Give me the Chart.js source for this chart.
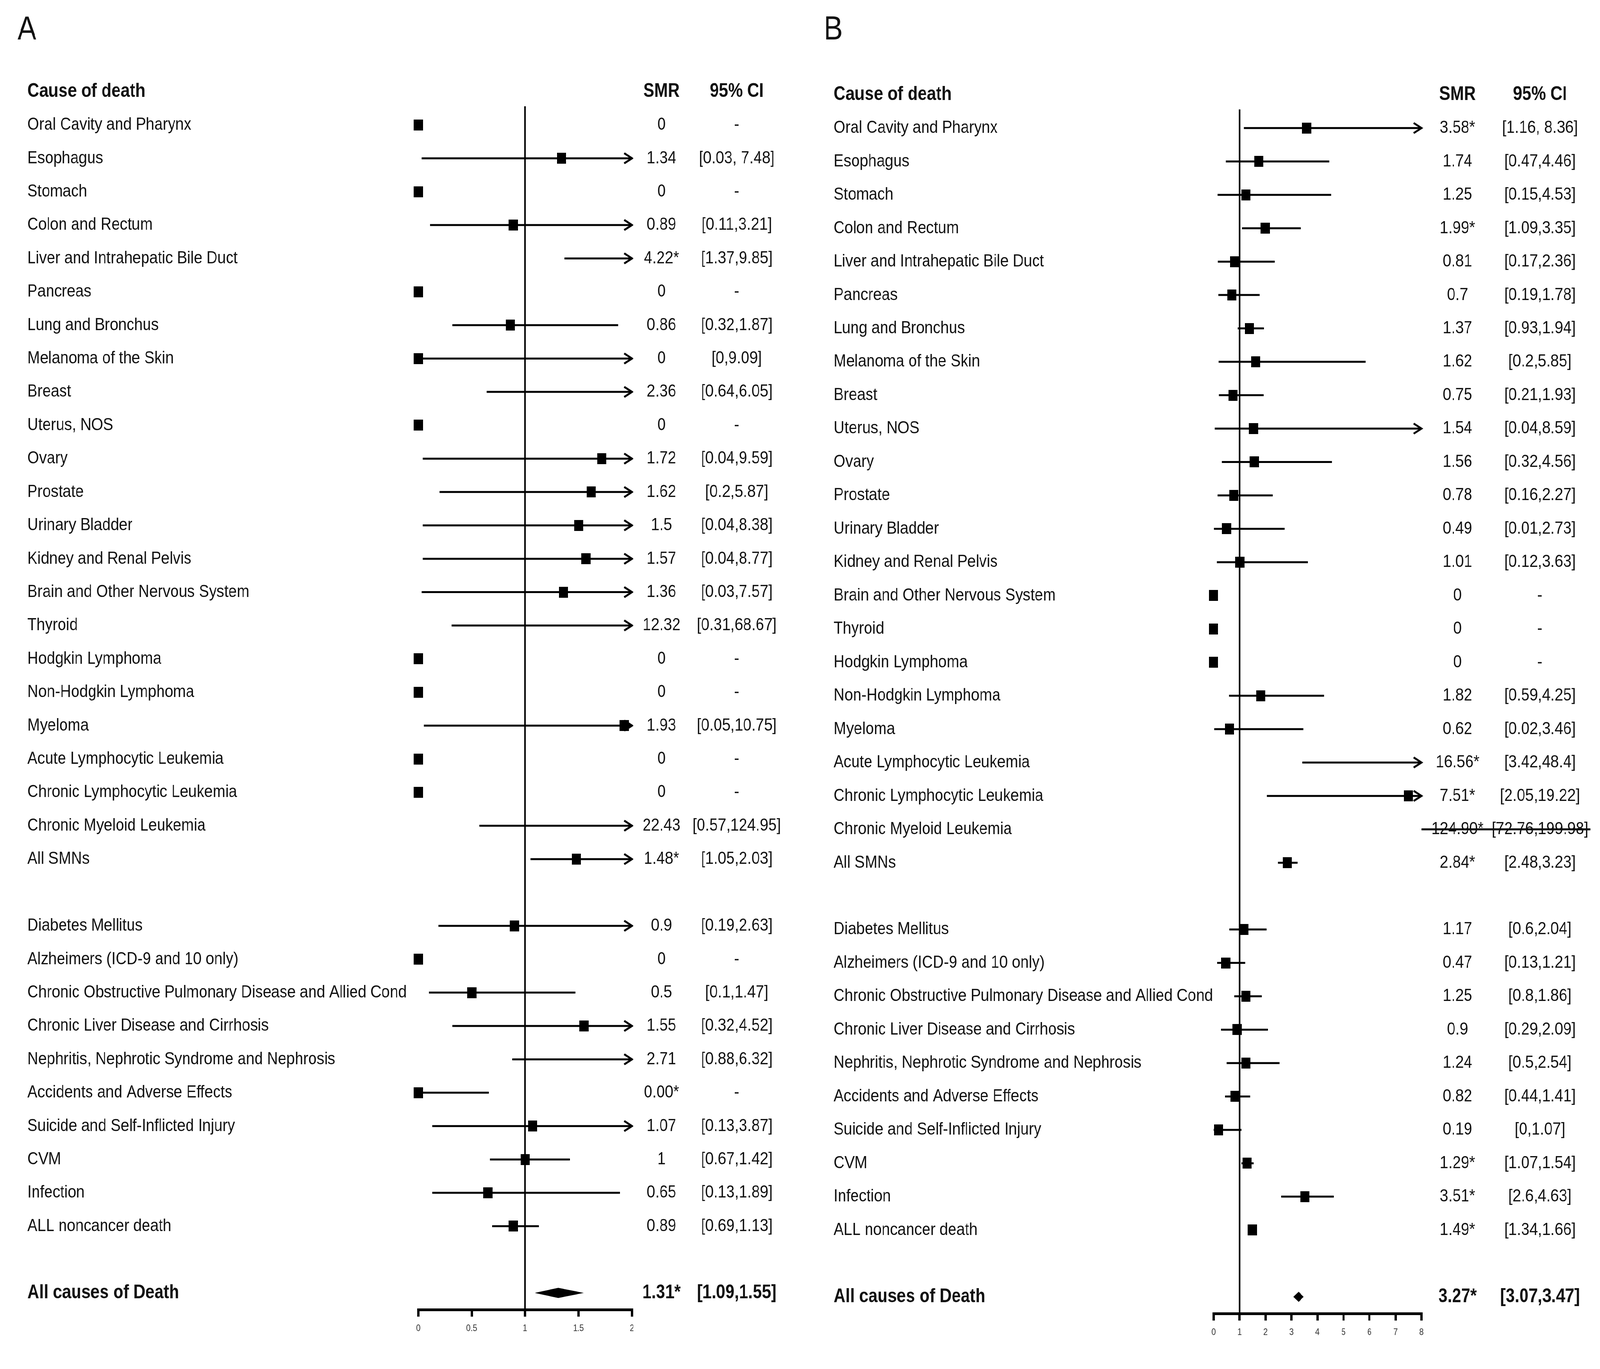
<!DOCTYPE html>
<html><head><meta charset="utf-8">
<script src="https://cdn.jsdelivr.net/npm/chart.js@4/dist/chart.umd.min.js"></script>
<style>
html,body{margin:0;padding:0;background:#fff;overflow:hidden}
#wrap{position:absolute;left:0;top:0;width:4211px;height:3504px;transform-origin:0 0;background:#fff}
canvas{position:absolute;top:0}
#cA{left:0px;width:2105px;height:3504px}
#cB{left:2105px;width:2106px;height:3504px}
</style></head><body>
<div id="wrap">
<canvas id="cA" width="2105" height="3504"></canvas>
<canvas id="cB" width="2106" height="3504"></canvas>
</div>
<script>
// ---------- data ----------
const causes = ['Oral Cavity and Pharynx','Esophagus','Stomach','Colon and Rectum','Liver and Intrahepatic Bile Duct','Pancreas','Lung and Bronchus','Melanoma of the Skin','Breast','Uterus, NOS','Ovary','Prostate','Urinary Bladder','Kidney and Renal Pelvis','Brain and Other Nervous System','Thyroid','Hodgkin Lymphoma','Non-Hodgkin Lymphoma','Myeloma','Acute Lymphocytic Leukemia','Chronic Lymphocytic Leukemia','Chronic Myeloid Leukemia','All SMNs','','Diabetes Mellitus','Alzheimers (ICD-9 and 10 only)','Chronic Obstructive Pulmonary Disease and Allied Cond','Chronic Liver Disease and Cirrhosis','Nephritis, Nephrotic Syndrome and Nephrosis','Accidents and Adverse Effects','Suicide and Self-Inflicted Injury','CVM','Infection','ALL noncancer death','','All causes of Death'];
const headers = ['Cause of death','SMR','95% CI'];

const smrA = [0,1.34,0,0.89,4.22,0,0.86,0,2.36,0,1.72,1.62,1.5,1.57,1.36,12.32,0,0,1.93,0,0,22.43,1.48,null,0.9,0,0.5,1.55,2.71,0,1.07,1,0.65,0.89,null,1.31];
const loA  = [null,0.03,null,0.11,1.37,null,0.32,0,0.64,null,0.04,0.2,0.04,0.04,0.03,0.31,null,null,0.05,null,null,0.57,1.05,null,0.19,null,0.1,0.32,0.88,0,0.13,0.67,0.13,0.69,null,1.09];
const hiA  = [null,7.48,null,3.21,9.85,null,1.87,9.09,6.05,null,9.59,5.87,8.38,8.77,7.57,68.67,null,null,10.75,null,null,124.95,2.03,null,2.63,null,1.47,4.52,6.32,0.66,3.87,1.42,1.89,1.13,null,1.55];
const smrTextA = ['0','1.34','0','0.89','4.22*','0','0.86','0','2.36','0','1.72','1.62','1.5','1.57','1.36','12.32','0','0','1.93','0','0','22.43','1.48*','','0.9','0','0.5','1.55','2.71','0.00*','1.07','1','0.65','0.89','','1.31*'];
const ciTextA = ['-','[0.03, 7.48]','-','[0.11,3.21]','[1.37,9.85]','-','[0.32,1.87]','[0,9.09]','[0.64,6.05]','-','[0.04,9.59]','[0.2,5.87]','[0.04,8.38]','[0.04,8.77]','[0.03,7.57]','[0.31,68.67]','-','-','[0.05,10.75]','-','-','[0.57,124.95]','[1.05,2.03]','','[0.19,2.63]','-','[0.1,1.47]','[0.32,4.52]','[0.88,6.32]','-','[0.13,3.87]','[0.67,1.42]','[0.13,1.89]','[0.69,1.13]','','[1.09,1.55]'];
const ticksA = [0,0.5,1,1.5,2];

const smrB = [3.58,1.74,1.25,1.99,0.81,0.7,1.37,1.62,0.75,1.54,1.56,0.78,0.49,1.01,0,0,0,1.82,0.62,16.56,7.51,124.90,2.84,null,1.17,0.47,1.25,0.9,1.24,0.82,0.19,1.29,3.51,1.49,null,3.27];
const loB  = [1.16,0.47,0.15,1.09,0.17,0.19,0.93,0.2,0.21,0.04,0.32,0.16,0.01,0.12,null,null,null,0.59,0.02,3.42,2.05,72.76,2.48,null,0.6,0.13,0.8,0.29,0.5,0.44,0,1.07,2.6,1.34,null,3.07];
const hiB  = [8.36,4.46,4.53,3.35,2.36,1.78,1.94,5.85,1.93,8.59,4.56,2.27,2.73,3.63,null,null,null,4.25,3.46,48.4,19.22,199.98,3.23,null,2.04,1.21,1.86,2.09,2.54,1.41,1.07,1.54,4.63,1.66,null,3.47];
const smrTextB = ['3.58*','1.74','1.25','1.99*','0.81','0.7','1.37','1.62','0.75','1.54','1.56','0.78','0.49','1.01','0','0','0','1.82','0.62','16.56*','7.51*','124.90*','2.84*','','1.17','0.47','1.25','0.9','1.24','0.82','0.19','1.29*','3.51*','1.49*','','3.27*'];
const ciTextB = ['[1.16, 8.36]','[0.47,4.46]','[0.15,4.53]','[1.09,3.35]','[0.17,2.36]','[0.19,1.78]','[0.93,1.94]','[0.2,5.85]','[0.21,1.93]','[0.04,8.59]','[0.32,4.56]','[0.16,2.27]','[0.01,2.73]','[0.12,3.63]','-','-','-','[0.59,4.25]','[0.02,3.46]','[3.42,48.4]','[2.05,19.22]','[72.76,199.98]','[2.48,3.23]','','[0.6,2.04]','[0.13,1.21]','[0.8,1.86]','[0.29,2.09]','[0.5,2.54]','[0.44,1.41]','[0,1.07]','[1.07,1.54]','[2.6,4.63]','[1.34,1.66]','','[3.07,3.47]'];
const ticksB = [0,1,2,3,4,5,6,7,8];
// overflow stroke seen in panel B on the Chronic Myeloid Leukemia row (data units)
const overflowRowB = 21, overflowToB = 14.5;

const summaryRow = 35;

// fit the 4211x3504 layout into the actual viewport
(function fit() {
  const w = window.innerWidth || 4211, h = window.innerHeight || 3504;
  document.getElementById('wrap').style.transform = 'scale(' + (w / 4211) + ',' + (h / 3504) + ')';
})();

// ---------- drawing helpers ----------
const FONT = '"Liberation Sans", Arial, sans-serif';
const INK = '#111';
function txt(ctx, s, x, y, o) {
  o = o || {};
  const size = o.size || (o.bold ? 50 : 45), sx = o.sx || (o.bold ? 0.866 : 0.885);
  ctx.save();
  ctx.font = (o.bold ? 'bold ' : '') + size + 'px ' + FONT;
  ctx.fillStyle = o.color || INK;
  ctx.textBaseline = o.baseline || 'middle';
  ctx.textAlign = 'left';
  const w = ctx.measureText(s).width * sx;
  const x0 = o.align === 'center' ? x - w / 2 : (o.align === 'right' ? x - w : x);
  ctx.translate(x0, y); ctx.scale(sx, 1);
  ctx.fillText(s, 0, 0);
  ctx.restore();
}

const marker = document.createElement('canvas');
marker.width = 24; marker.height = 28;
(function () { const c = marker.getContext('2d'); c.fillStyle = '#000'; c.fillRect(0, 0, 24, 28); })();

function makePanel(id, cfg) {
  const n = causes.length;
  const pts = [];
  for (let i = 0; i < n; i++) {
    const v = cfg.smr[i];
    if (v === null || i === summaryRow) continue;
    if (v >= cfg.min && v <= cfg.max) pts.push({x: v, y: i});
  }
  const forest = {
    id: 'forest' + id,
    beforeDatasetsDraw(chart) {
      const ctx = chart.ctx, xs = chart.scales.x, ys = chart.scales.y, ca = chart.chartArea;
      ctx.save();
      ctx.strokeStyle = '#000';
      ctx.lineWidth = 4;
      const x1 = xs.getPixelForValue(1);
      ctx.beginPath(); ctx.moveTo(x1, ca.top - 5); ctx.lineTo(x1, ca.bottom); ctx.stroke();
      ctx.lineWidth = 5; ctx.lineCap = 'butt';
      for (let i = 0; i < n; i++) {
        if (i === summaryRow) continue;
        const lo = cfg.lo[i], hi = cfg.hi[i];
        if (lo === null || hi === null) continue;
        const y = ys.getPixelForValue(i);
        if (lo > cfg.max) {
          if (cfg.overflowRow === i) {
            ctx.beginPath();
            ctx.moveTo(xs.getPixelForValue(cfg.max), y);
            ctx.lineTo(xs.getPixelForValue(cfg.overflowTo), y);
            ctx.stroke();
          }
          continue;
        }
        const a = xs.getPixelForValue(Math.max(lo, cfg.min));
        const b = xs.getPixelForValue(Math.min(hi, cfg.max));
        ctx.beginPath(); ctx.moveTo(a, y); ctx.lineTo(b, y); ctx.stroke();
        if (hi > cfg.max) {
          ctx.save(); ctx.lineJoin = 'miter'; ctx.lineWidth = 5;
          ctx.beginPath();
          ctx.moveTo(b - 20, y - 13); ctx.lineTo(b, y); ctx.lineTo(b - 20, y + 13);
          ctx.stroke(); ctx.restore();
        }
      }
      ctx.restore();
    },
    afterDatasetsDraw(chart) {
      const ctx = chart.ctx, xs = chart.scales.x, ys = chart.scales.y;
      const i = summaryRow, y = ys.getPixelForValue(i);
      const l = xs.getPixelForValue(cfg.lo[i]), r = xs.getPixelForValue(cfg.hi[i]), m = xs.getPixelForValue(cfg.smr[i]);
      ctx.save(); ctx.fillStyle = '#000';
      ctx.beginPath(); ctx.moveTo(l, y); ctx.lineTo(m, y - 13); ctx.lineTo(r, y); ctx.lineTo(m, y + 13); ctx.closePath(); ctx.fill();
      ctx.restore();
      // tick labels (narrow face like the rest of the figure)
      cfg.ticks.forEach(v => txt(ctx, String(v), xs.getPixelForValue(v), chart.chartArea.bottom + 48, {size: 24, sx: 0.85, align: 'center', color: '#333'}));
      txt(ctx, cfg.letter, cfg.letterX, 101, {size: 86, sx: 0.866, baseline: 'alphabetic'});
      const hy = ys.getPixelForValue(-1);
      txt(ctx, headers[0], cfg.labelX, hy, {bold: true});
      txt(ctx, headers[1], cfg.smrX, hy, {bold: true, align: 'center'});
      txt(ctx, headers[2], cfg.ciX, hy, {bold: true, align: 'center'});
      for (let k = 0; k < n; k++) {
        if (!causes[k]) continue;
        const yy = ys.getPixelForValue(k);
        const bold = k === summaryRow;
        txt(ctx, causes[k], cfg.labelX, yy, {bold});
        txt(ctx, cfg.smrText[k], cfg.smrX, yy, {bold, align: 'center'});
        txt(ctx, cfg.ciText[k], cfg.ciX, yy, {bold, align: 'center'});
      }
    }
  };
  return new Chart(document.getElementById(id), {
    type: 'scatter',
    data: { datasets: [{ data: pts, pointStyle: marker, pointRadius: 14, pointHoverRadius: 14,
      backgroundColor: '#000', borderColor: '#000', borderWidth: 0, showLine: false, clip: false }] },
    options: {
      responsive: false, animation: false, devicePixelRatio: 1,
      events: [],
      layout: { padding: cfg.padding },
      plugins: { legend: { display: false }, tooltip: { enabled: false } },
      scales: {
        y: { type: 'linear', min: -0.5, max: 35.5, reverse: true, display: false },
        x: { type: 'linear', min: cfg.min, max: cfg.max,
          afterBuildTicks(scale) { scale.ticks = cfg.ticks.map(v => ({value: v})); },
          afterFit(scale) { scale.height = 100; },
          grid: { drawOnChartArea: false, drawTicks: true, tickLength: 18, tickWidth: 6, tickColor: '#000', lineWidth: 6, color: '#000' },
          border: { display: true, width: 7, color: '#000' },
          ticks: { display: false, autoSkip: false }
        }
      }
    },
    plugins: [forest]
  });
}

makePanel('cA', { letter: 'A', letterX: 46, labelX: 72, smrX: 1741, ciX: 1939,
  smr: smrA, lo: loA, hi: hiA, smrText: smrTextA, ciText: ciTextA, ticks: ticksA,
  min: 0, max: 2, padding: { left: 1101, right: 442, top: 277, bottom: 52 } });
makePanel('cB', { letter: 'B', letterX: 63, labelX: 89, smrX: 1731, ciX: 1948,
  smr: smrB, lo: loB, hi: hiB, smrText: smrTextB, ciText: ciTextB, ticks: ticksB,
  overflowRow: overflowRowB, overflowTo: overflowToB,
  min: 0, max: 8, padding: { left: 1089, right: 470, top: 285, bottom: 42 } });
</script>
</body></html>
